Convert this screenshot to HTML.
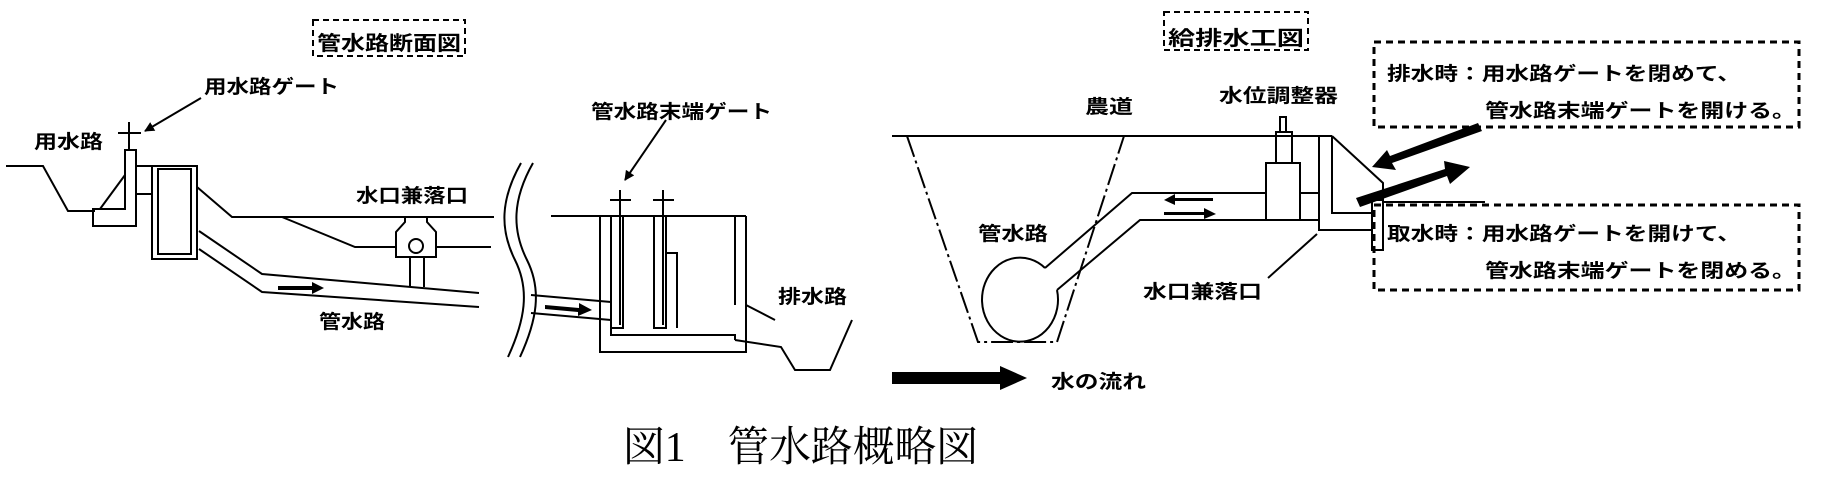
<!DOCTYPE html>
<html><head><meta charset="utf-8"><style>
html,body{margin:0;padding:0;background:#fff;}
svg{display:block;}
text{font-family:"Liberation Sans","Noto Sans CJK JP",sans-serif;font-weight:bold;fill:#000;}
.t{font-family:"Liberation Serif","Noto Serif CJK JP",serif;font-weight:normal;}
</style></head><body>
<svg width="1835" height="482" viewBox="0 0 1835 482" xmlns="http://www.w3.org/2000/svg">
<defs>
<marker id="ah" markerWidth="10" markerHeight="10" refX="9" refY="5" orient="auto" markerUnits="userSpaceOnUse"><path d="M0,0 L10,5 L0,10 z" fill="#000"/></marker>
</defs>
<g fill="none" stroke="#000" stroke-width="2">
<!-- left title box -->
<rect x="313" y="20" width="152" height="36" stroke-dasharray="6,4"/>
<!-- channel -->
<polyline points="6,166 43,166 68,211 95,211"/>
<!-- gate -->
<line x1="129" y1="122" x2="129" y2="150"/>
<line x1="118" y1="133" x2="141" y2="133"/>
<path d="M93,209 L125,209 L125,150 L136,150 L136,226 L93,226 Z"/>
<line x1="100" y1="209" x2="125" y2="175"/>
<line x1="136" y1="166" x2="152" y2="166"/>
<line x1="136" y1="194" x2="152" y2="194"/>
<rect x="152" y="166" width="45" height="93"/>
<rect x="158" y="169" width="33" height="85"/>
<line x1="201" y1="98" x2="145" y2="131" marker-end="url(#ah)"/>
<!-- ground lines -->
<polyline points="197,187 232,217 494,217"/>
<polyline points="282,217 355,247 396,247"/>
<line x1="436" y1="247" x2="491" y2="247"/>
<!-- pipe -->
<polyline points="199,231 262,274 479,293"/>
<polyline points="199,249 262,292 479,307"/>
<!-- drop structure -->
<path d="M396,257 L396,232 L405,222 L405,217 L427,217 L427,222 L436,232 L436,257 Z"/>
<circle cx="416" cy="246" r="7"/>
<line x1="410" y1="257" x2="410" y2="287"/>
<line x1="424" y1="257" x2="424" y2="287"/>
<!-- wavy -->
<path d="M521,163 C500,200 500,230 515,260 C530,290 525,320 508,357"/>
<path d="M533,163 C512,200 512,230 527,260 C542,290 537,320 520,357"/>
<!-- tank -->
<line x1="551" y1="216" x2="746" y2="216"/>
<path d="M600,216 L600,352 L746,352 L746,305"/>
<path d="M746,216 L746,305"/>
<path d="M735,216 L735,305"/>
<rect x="611" y="216" width="12" height="112"/>
<rect x="654" y="216" width="12" height="112"/>
<path d="M666,328 L666,253 L677,253 L677,328"/>
<path d="M611,328 L611,335 L735,335 L735,340"/>
<line x1="620" y1="190" x2="620" y2="325"/>
<line x1="610" y1="200" x2="631" y2="200"/>
<line x1="663" y1="190" x2="663" y2="325"/>
<line x1="653" y1="200" x2="674" y2="200"/>
<line x1="666" y1="120" x2="625" y2="180" marker-end="url(#ah)"/>
<line x1="531" y1="295" x2="611" y2="302"/>
<line x1="531" y1="313" x2="611" y2="320"/>
<!-- drain -->
<line x1="746" y1="305" x2="775" y2="320"/>
<polyline points="735,340 781,347 795,370 830,370 852,320"/>
<!-- right title box -->
<rect x="1164" y="12" width="144" height="38" stroke-dasharray="6,4"/>
<!-- note boxes -->
<rect x="1374" y="42" width="425" height="85" stroke-width="3" stroke-dasharray="7,5"/>
<rect x="1374" y="205" width="425" height="85" stroke-width="3" stroke-dasharray="7,5"/>
<!-- ground / trapezoid -->
<line x1="892" y1="136" x2="1332" y2="136"/>
<polyline points="907,136 978,342 1057,342 1124,136" stroke-dasharray="22,4,3,4"/>
<!-- regulator -->
<rect x="1280" y="117" width="6" height="15"/>
<rect x="1276" y="132" width="16" height="31"/>
<rect x="1266" y="163" width="34" height="57"/>
<line x1="1300" y1="193" x2="1319" y2="193"/>
<path d="M1319,136 L1319,230 L1372,230"/>
<path d="M1332,136 L1332,213 L1372,213"/>
<polyline points="1332,136 1383,183 1383,200"/>
<line x1="1383" y1="202" x2="1485" y2="202"/>
<rect x="1372" y="200" width="11" height="50"/>
<!-- pipe -->
<polyline points="1045,268 1132,193 1266,193"/>
<polyline points="1057,290 1140,220 1319,220"/>
<path d="M1045,268 A38,42 0 1 0 1057,290"/>
<line x1="1268" y1="278" x2="1317" y2="234"/>
</g>
<!-- small arrows -->
<g fill="#000">
<path d="M278,286 L312,286 L312,282 L324,288 L312,294 L312,290 L278,290 Z"/>
<path d="M545,305 L579,308 L579,303 L592,310 L578,316 L578,312 L545,309 Z"/>
<path d="M1213,198 L1175,198 L1175,194 L1164,200 L1175,205 L1175,201 L1213,201 Z"/>
<path d="M1164,212 L1204,212 L1204,208 L1216,214 L1204,219 L1204,215 L1164,215 Z"/>
<!-- big arrows -->
<path d="M1478,123 L1482,131 L1392,163 L1396,170 L1372,167 L1387,150 L1390,156 Z"/>
<path d="M1356,198 L1360,207 L1447,176 L1450,184 L1470,167 L1444,161 L1445,169 Z"/>
<!-- legend arrow -->
<path d="M892,372 L1000,372 L1000,366 L1027,378 L1000,390 L1000,384 L892,384 Z"/>
</g>
<!-- labels -->
<text x="317" y="50" font-size="20" textLength="144" lengthAdjust="spacingAndGlyphs">管水路断面図</text>
<text x="204" y="93" font-size="19" textLength="135" lengthAdjust="spacingAndGlyphs">用水路ゲート</text>
<text x="34" y="148" font-size="19" textLength="69" lengthAdjust="spacingAndGlyphs">用水路</text>
<text x="356" y="202" font-size="19" textLength="112" lengthAdjust="spacingAndGlyphs">水口兼落口</text>
<text x="319" y="328" font-size="19" textLength="66" lengthAdjust="spacingAndGlyphs">管水路</text>
<text x="591" y="118" font-size="19" textLength="181" lengthAdjust="spacingAndGlyphs">管水路末端ゲート</text>
<text x="778" y="303" font-size="19" textLength="69" lengthAdjust="spacingAndGlyphs">排水路</text>
<text x="1168" y="45" font-size="20" textLength="136" lengthAdjust="spacingAndGlyphs">給排水工図</text>
<text x="1085" y="113" font-size="19" textLength="48" lengthAdjust="spacingAndGlyphs">農道</text>
<text x="1219" y="102" font-size="19" textLength="119" lengthAdjust="spacingAndGlyphs">水位調整器</text>
<text x="978" y="240" font-size="19" textLength="70" lengthAdjust="spacingAndGlyphs">管水路</text>
<text x="1143" y="298" font-size="19" textLength="119" lengthAdjust="spacingAndGlyphs">水口兼落口</text>
<text x="1051" y="388" font-size="19" textLength="95" lengthAdjust="spacingAndGlyphs">水の流れ</text>
<text x="1387" y="80" font-size="19" textLength="354" lengthAdjust="spacingAndGlyphs">排水時：用水路ゲートを閉めて、</text>
<text x="1485" y="117" font-size="19" textLength="311" lengthAdjust="spacingAndGlyphs">管水路末端ゲートを開ける。</text>
<text x="1387" y="240" font-size="19" textLength="354" lengthAdjust="spacingAndGlyphs">取水時：用水路ゲートを開けて、</text>
<text x="1485" y="277" font-size="19" textLength="311" lengthAdjust="spacingAndGlyphs">管水路末端ゲートを閉める。</text>
<text class="t" x="623" y="461" font-size="42" textLength="355" lengthAdjust="spacingAndGlyphs">図1　管水路概略図</text>
</svg>
</body></html>
